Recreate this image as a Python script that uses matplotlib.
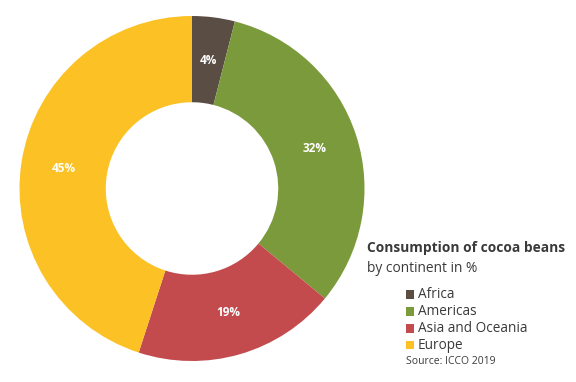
import matplotlib
matplotlib.use("Agg")
import matplotlib.pyplot as plt
from matplotlib.patches import Rectangle

plt.rcParams["font.family"] = ["Open Sans", "DejaVu Sans"]

# data
continents = ["Africa", "Americas", "Asia and Oceania", "Europe"]
shares = [4, 32, 19, 45]
colors = ["#5a4d44", "#7b9a3b", "#c44b4d", "#fbc125"]

W, H = 576, 382
fig = plt.figure(figsize=(W / 100, H / 100), dpi=100)

# donut
cx, cy, r = 192, 188.5, 172.5
ax = fig.add_axes([(cx - r) / W, (H - cy - r) / H, 2 * r / W, 2 * r / H])
wedges, texts = ax.pie(shares, colors=colors, startangle=90, counterclock=False,
                       radius=1, wedgeprops=dict(width=0.5, linewidth=0),
                       labels=[f"{s}%" for s in shares], labeldistance=0.75)
for t in texts:
    t.set_ha("center")
    t.set_va("center")
    t.set_color("white")
    t.set_fontsize(8.5)
    t.set_fontweight("bold")
ax.set_xlim(-1, 1)
ax.set_ylim(-1, 1)
ax.axis("off")

# title block
fig.text(367 / W, 1 - 252.3 / H, "Consumption of cocoa beans", fontsize=9.9,
         fontweight="bold", color="#3a3a3a", va="baseline", ha="left")
fig.text(367 / W, 1 - 271.7 / H, "by continent in %", fontsize=9.9,
         color="#3a3a3a", va="baseline", ha="left")

# legend
row_y = [294.7, 311.5, 328.3, 345.1]
for name, col, y in zip(continents, colors, row_y):
    fig.patches.append(Rectangle(((405.7) / W, 1 - (y + 4.3) / H), 8.6 / W, 8.6 / H,
                                 transform=fig.transFigure, facecolor=col,
                                 edgecolor="none"))
    fig.text(417.7 / W, 1 - y / H, name, fontsize=9.85, color="#3a3a3a",
             va="center", ha="left")

fig.text(406 / W, 1 - 361 / H, "Source: ICCO 2019", fontsize=7.5,
         color="#3a3a3a", va="center", ha="left")

fig.savefig("out.png", dpi=100)
